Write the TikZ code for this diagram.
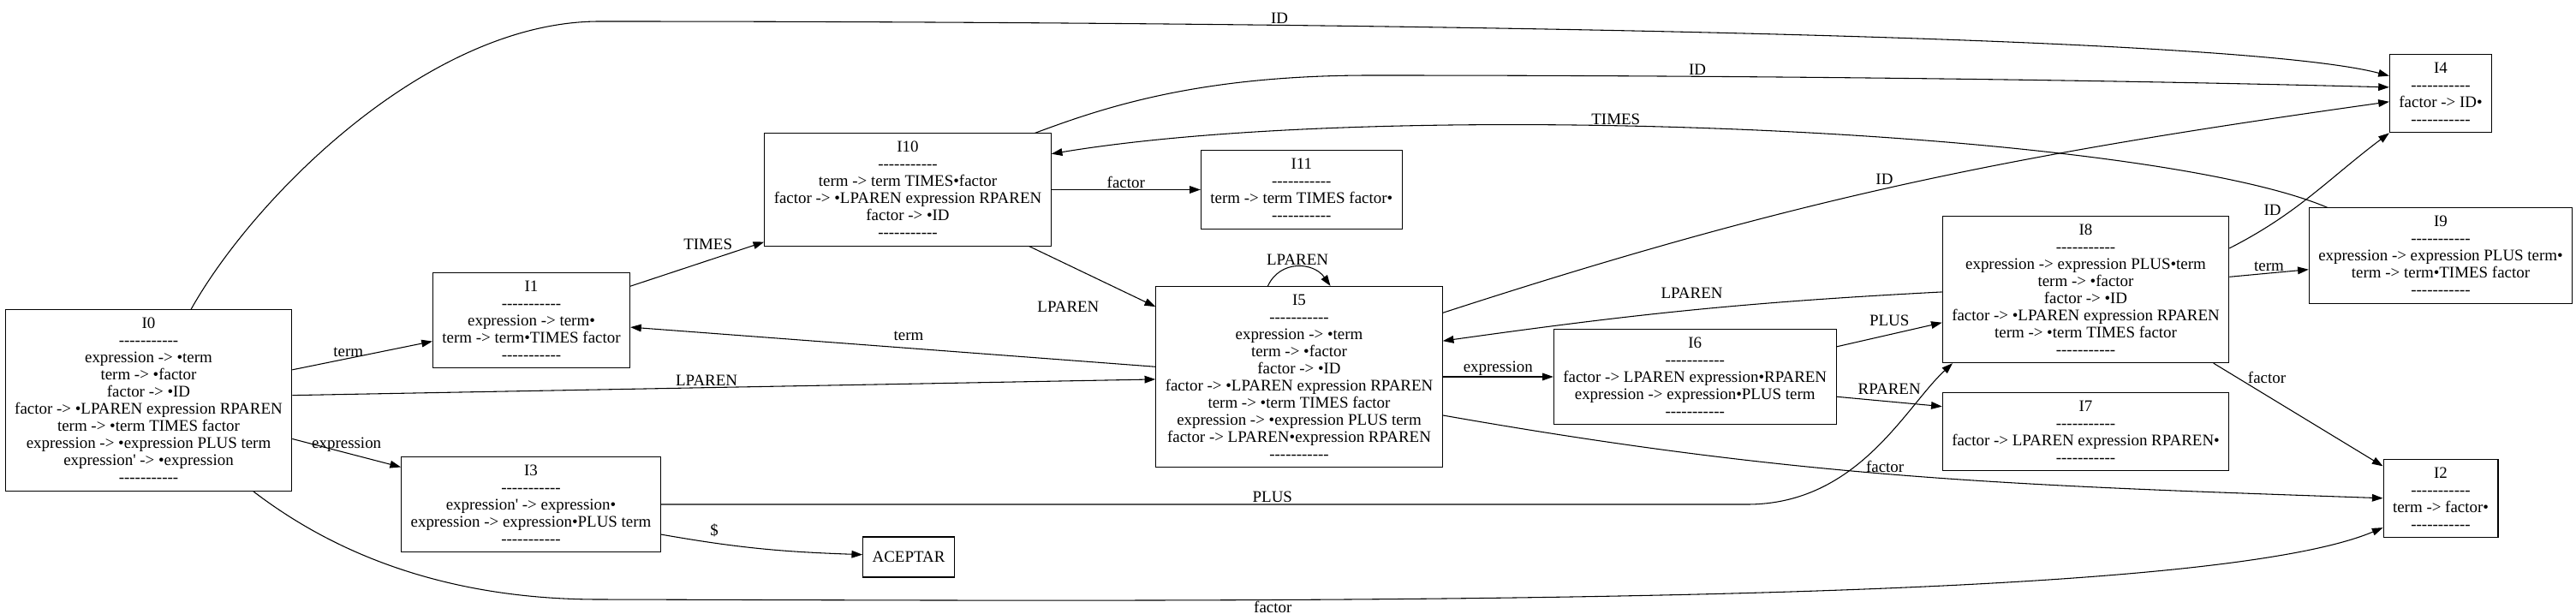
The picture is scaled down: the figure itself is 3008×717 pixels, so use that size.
\documentclass[tikz,border=0pt]{standalone}
\usepackage{fontspec}
\setmainfont{Liberation Serif}[Ligatures=TeXOff]
\usetikzlibrary{positioning,arrows.meta}

\newcommand{\dashline}{-----------}

\begin{document}
\begin{tikzpicture}[
        x=0.75pt, y=-0.75pt,
        item/.style={rectangle, draw, line width=0.8pt, align=center, inner xsep=8.25pt, inner ysep=7pt, font=\fontsize{14.2}{15}\selectfont},
        lbl/.style={inner sep=1pt, font=\fontsize{14.2}{15}\selectfont},
        arrow/.style={-{Triangle[length=9.5pt, width=6.5pt]}, line width=0.8pt}
    ]
        \useasboundingbox (0,0) rectangle (3008,717);

        \node[item] (I0) at (173.5,467.5) {I0\\\dashline\\expression -> •term\\term -> •factor\\factor -> •ID\\factor -> •LPAREN expression RPAREN\\term -> •term TIMES factor\\expression -> •expression PLUS term\\expression' -> •expression\\\dashline};
        \node[item] (I1) at (620.5,374) {I1\\\dashline\\expression -> term•\\term -> term•TIMES factor\\\dashline};
        \node[item] (I10) at (1060,221.5) {I10\\\dashline\\term -> term TIMES•factor\\factor -> •LPAREN expression RPAREN\\factor -> •ID\\\dashline};
        \node[item, right=130.5pt of I10] (I11) {I11\\\dashline\\term -> term TIMES factor•\\\dashline};
        \node[item] (I5) at (1517,440) {I5\\\dashline\\expression -> •term\\term -> •factor\\factor -> •ID\\factor -> •LPAREN expression RPAREN\\term -> •term TIMES factor\\expression -> •expression PLUS term\\factor -> LPAREN•expression RPAREN\\\dashline};
        \node[item, right=96.75pt of I5] (I6) {I6\\\dashline\\factor -> LPAREN expression•RPAREN\\expression -> expression•PLUS term\\\dashline};
        \node[item] (I8) at (2435.5,338) {I8\\\dashline\\expression -> expression PLUS•term\\term -> •factor\\factor -> •ID\\factor -> •LPAREN expression RPAREN\\term -> •term TIMES factor\\\dashline};
        \node[item, below=25.5pt of I8] (I7) {I7\\\dashline\\factor -> LPAREN expression RPAREN•\\\dashline};
        \node[item] (I9) at (2850,298.5) {I9\\\dashline\\expression -> expression PLUS term•\\term -> term•TIMES factor\\\dashline};
        \node[item, above=65.25pt of I9] (I4) {I4\\\dashline\\factor -> ID•\\\dashline};
        \node[item, below=135.75pt of I9] (I2) {I2\\\dashline\\term -> factor•\\\dashline};
        \node[item] (I3) at (620,589) {I3\\\dashline\\expression' -> expression•\\expression -> expression•PLUS term\\\dashline};
        \node[item, minimum height=35.25pt] (acc) at (1061,650.5) {ACEPTAR};

        % edges out of I0
        \draw[arrow] (I0.65) .. controls (296,231) and (500,25) .. (700,25)
            .. controls (1500,25) and (2598,38) .. (I4.161) node[lbl, above, pos=0.31] {ID};
        \draw[arrow] (I0.12) -- node[lbl, above, pos=0.4] {term} (I1.192);
        \draw[arrow] (I0.2) -- node[lbl, above, pos=0.48] {LPAREN} (I5.181);
        \draw[arrow] (I0.345) -- node[lbl, above, pos=0.5] {expression} (I3.164);
        \draw[arrow] (I0.319) .. controls (373,633) and (500,700) .. (700,700)
            .. controls (1500,702) and (2560,710) .. (I2.207) node[lbl, below, pos=0.31] {factor};

        % edges out of I1, I10
        \draw[arrow] (I1.19) -- node[lbl, above=8pt, pos=0.58] {TIMES} (I10.200);
        \draw[arrow] (I10.24) .. controls (1290,125) and (1400,88) .. (1600,88)
            .. controls (2200,88) and (2600,97) .. (I4.173) node[lbl, above, pos=0.23] {ID};
        \draw[arrow] (I10.east) -- node[lbl, above] {factor} (I11.west);
        \draw[arrow] (I10.335) -- node[lbl, pos=1, left=48pt] {LPAREN} (I5.154);

        % edges out of I5
        \draw[arrow] (I5.109) to[out=65, in=125, looseness=1.2] node[lbl, above] {LPAREN} (I5.71);
        \draw[arrow] (I5.176) -- node[lbl, above=5pt, pos=0.47] {term} (I1.356);
        \draw[arrow] (I5.east) -- node[lbl, above] {expression} (I6.west);
        \draw[arrow] (I5.24) to[out=18, in=188] node[lbl, above=2pt, pos=0.47] {ID} (I4.189);
        \draw[arrow] (I5.345) to[out=-10, in=178] node[lbl, above, pos=0.47] {factor} (I2.west);

        % edges out of I6, I8, I9
        \draw[arrow] (I6.12) -- node[lbl, above=6pt] {PLUS} (I8.193);
        \draw[arrow] (I6.352) -- node[lbl, above=5pt] {RPAREN} (I7.170);
        \draw[arrow] (I8.181) to[out=183, in=8] node[lbl, above=9pt] {LPAREN} (I5.14);
        \draw[arrow] (I8.16) to[out=27, in=217] node[lbl, above left, pos=0.3] {ID} (I4.south west);
        \draw[arrow] (I8.5) -- node[lbl, above] {term} (I9.186);
        \draw[arrow] (I8.330) -- node[lbl, right=8pt, pos=0.14] {factor} (I2.151);
        \draw[arrow] (I9.157) .. controls (2500,150) and (1622,114) .. (I10.14) node[lbl, above, pos=0.585] {TIMES};

        % edges out of I3
        \draw[arrow] (I3.east) -- node[lbl, above, pos=0.563] {PLUS} (2040,589)
            .. controls (2170,589) and (2225,475) .. (I8.209);
        \draw[arrow] (I3.347) to[out=-10, in=178] node[lbl, above=4pt, pos=0.25] {\$} (acc.177);
    \end{tikzpicture}
\end{document}
